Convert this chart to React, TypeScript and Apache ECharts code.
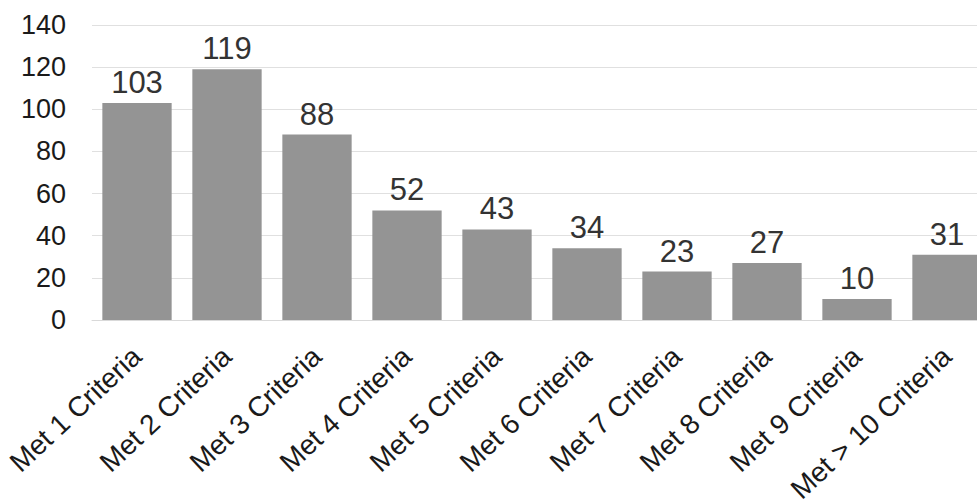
import React, { useEffect, useRef } from "react";
import * as echarts from "echarts";

const categories = [
  "Met 1 Criteria",
  "Met 2 Criteria",
  "Met 3 Criteria",
  "Met 4 Criteria",
  "Met 5 Criteria",
  "Met 6 Criteria",
  "Met 7 Criteria",
  "Met 8 Criteria",
  "Met 9 Criteria",
  "Met > 10 Criteria",
];
const values = [103, 119, 88, 52, 43, 34, 23, 27, 10, 31];
const yMin = 0;
const yMax = 140;
const yStep = 20;

export default function App() {
  const ref = useRef<HTMLDivElement>(null);
  useEffect(() => {
    if (!ref.current) return;
    const chart = echarts.init(ref.current, undefined, { renderer: "svg" });
    const font = "'Liberation Sans', Arial, sans-serif";
    chart.setOption({
      animation: false,
      backgroundColor: "#ffffff",
      grid: {
        left: 92,
        top: 25,
        width: 900,
        height: 295,
        containLabel: false,
        outerBoundsMode: "none",
      },
      xAxis: {
        type: "category",
        data: categories,
        axisLine: { show: true, lineStyle: { color: "#d9d9d9", width: 1 } },
        axisTick: { show: false },
        axisLabel: {
          interval: 0,
          rotate: 43,
          margin: 32,
          fontSize: 28,
          color: "#1a1a1a",
          fontFamily: font,
        },
      },
      yAxis: {
        type: "value",
        min: yMin,
        max: yMax,
        interval: yStep,
        axisLine: { show: false },
        axisTick: { show: false },
        splitLine: { lineStyle: { color: "#e0e0e0", width: 1 } },
        axisLabel: {
          margin: 26,
          fontSize: 27,
          color: "#1a1a1a",
          fontFamily: font,
        },
      },
      series: [
        {
          type: "bar",
          data: values,
          barCategoryGap: "23%",
          itemStyle: { color: "#949494" },
          label: {
            show: true,
            position: "top",
            distance: 5,
            fontSize: 31,
            color: "#333333",
            fontFamily: font,
          },
        },
      ],
    });
    return () => chart.dispose();
  }, []);
  return (
    <div
      style={{
        position: "fixed",
        left: 0,
        top: 0,
        width: 977,
        height: 504,
        overflow: "hidden",
        background: "#ffffff",
      }}
    >
      <div ref={ref} style={{ width: 1010, height: 504 }} />
    </div>
  );
}
